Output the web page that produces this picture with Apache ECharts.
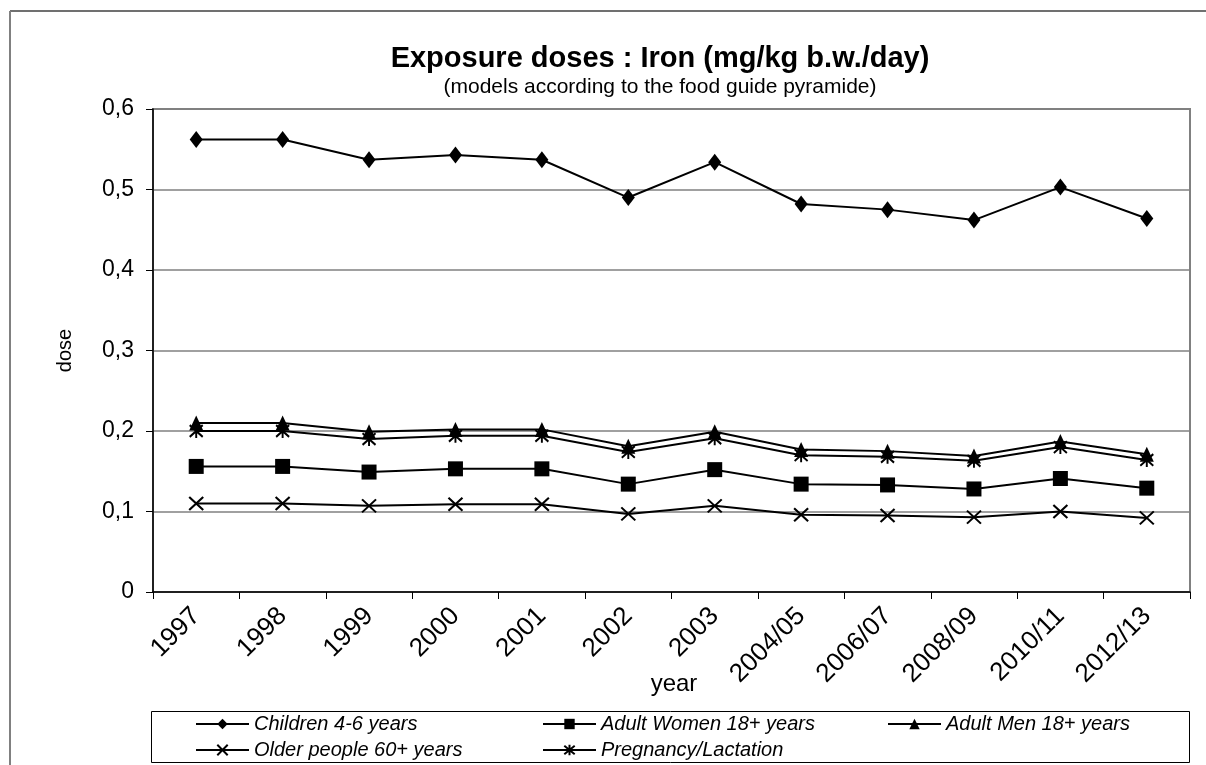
<!DOCTYPE html>
<html>
<head>
<meta charset="utf-8">
<script src="https://cdn.jsdelivr.net/npm/echarts@6/dist/echarts.min.js"></script>
<style>
html,body{margin:0;padding:0;background:#fff;}
#chart{width:1206px;height:765px;}
</style>
</head>
<body>
<div id="chart"></div>
<script>
var categories = ['1997','1998','1999','2000','2001','2002','2003','2004/05','2006/07','2008/09','2010/11','2012/13'];
var children = [0.562,0.562,0.537,0.543,0.537,0.490,0.534,0.482,0.475,0.462,0.503,0.464];
var women    = [0.156,0.156,0.149,0.153,0.153,0.134,0.152,0.134,0.133,0.128,0.141,0.129];
var men      = [0.210,0.210,0.199,0.202,0.202,0.181,0.199,0.177,0.175,0.169,0.187,0.171];
var older    = [0.110,0.110,0.107,0.109,0.109,0.097,0.107,0.096,0.095,0.093,0.100,0.092];
var pregnancy= [0.200,0.200,0.190,0.194,0.194,0.174,0.191,0.170,0.168,0.163,0.180,0.164];
var seriesNames = ['Children 4-6 years','Adult Women 18+ years','Adult Men 18+ years','Older people 60+ years','Pregnancy/Lactation'];
var titleText = 'Exposure doses : Iron (mg/kg b.w./day)';
var subtitleText = '(models according to the food guide pyramide)';

var FONT = '"Liberation Sans", Arial, Helvetica, sans-serif';
var chart = echarts.init(document.getElementById('chart'), null, {renderer:'canvas'});

var X_PATH = 'path://M0,0L10,10M0,10L10,0';
var AST_PATH = 'path://M0,1L10,11M0,11L10,1M5,0L5,12';

function mkSeries(name, data, symbol, size, stroked) {
  return {
    name: name, type: 'line', data: data,
    symbol: symbol, symbolSize: size,
    lineStyle: {color:'#000', width:2},
    itemStyle: stroked ? {color:'#000', borderColor:'#000', borderWidth:2} : {color:'#000', borderWidth:0},
    emphasis: {disabled:true},
    z: 3
  };
}

function mkLegend(name, left, top) {
  return {
    data: [name], left: left, top: top, padding: 0,
    itemWidth: 53, itemHeight: 13, itemGap: 0,
    selectedMode: false,
    textStyle: {fontFamily: FONT, fontSize: 20, fontStyle: 'italic', color: '#000'}
  };
}

var option = {
  animation: false,
  backgroundColor: '#fff',
  textStyle: {fontFamily: FONT},
  grid: {left:153, right:16, top:109, bottom:173, show:true, borderColor:'#808080', borderWidth:2, containLabel:false},
  xAxis: {
    type: 'category', data: categories, boundaryGap: true,
    name: 'year', nameLocation: 'middle', nameGap: 80, nameMoveOverlap: false,
    nameTextStyle: {fontFamily: FONT, fontSize: 24, color:'#000', padding:[0,0,0,5]},
    axisLine: {lineStyle: {color:'#000', width:1.5}},
    axisTick: {show:true, interval:0, length:7, lineStyle:{color:'#000', width:1}},
    axisLabel: {interval:0, rotate:45, fontFamily: FONT, fontSize:26, color:'#000', margin:20},
    splitLine: {show:false}
  },
  yAxis: {
    type: 'value', min: 0, max: 0.6, interval: 0.1,
    name: 'dose', nameLocation: 'middle', nameGap: 78, nameRotate: 90, nameMoveOverlap: false,
    nameTextStyle: {fontFamily: FONT, fontSize: 20, color:'#000'},
    axisLine: {show:true, lineStyle: {color:'#000', width:1.5}},
    axisTick: {show:true, length:7, lineStyle:{color:'#000', width:1}},
    axisLabel: {fontFamily: FONT, fontSize:23, color:'#000', margin:19,
      formatter: function(v){ return v === 0 ? '0' : v.toFixed(1).replace('.', ','); }},
    splitLine: {show:true, lineStyle:{color:'#808080', width:1.5}}
  },
  legend: [
    mkLegend(seriesNames[0], 195, 714),
    mkLegend(seriesNames[1], 542, 714),
    mkLegend(seriesNames[2], 887, 714),
    mkLegend(seriesNames[3], 195, 740),
    mkLegend(seriesNames[4], 542, 740)
  ],
  series: [
    mkSeries(seriesNames[0], children, 'diamond', [13,17], false),
    mkSeries(seriesNames[1], women, 'rect', 15, false),
    mkSeries(seriesNames[2], men, 'triangle', [14,15], false),
    mkSeries(seriesNames[3], older, X_PATH, [14,13], true),
    mkSeries(seriesNames[4], pregnancy, AST_PATH, [13,14], true)
  ],
  graphic: [
    {type:'line', shape:{x1:10, y1:11, x2:1206, y2:11}, style:{stroke:'#404040', lineWidth:1.5}, silent:true},
    {type:'line', shape:{x1:10, y1:11, x2:10, y2:765}, style:{stroke:'#808080', lineWidth:2}, silent:true},
    {type:'rect', shape:{x:151.5, y:711.5, width:1038, height:51}, style:{fill:'none', stroke:'#000', lineWidth:1}, silent:true},
    {type:'text', x:660, y:59, style:{text:titleText, font:'bold 29px ' + FONT, fill:'#000', align:'center', verticalAlign:'middle', textAlign:'center', textVerticalAlign:'middle'}, silent:true},
    {type:'text', x:660, y:87, style:{text:subtitleText, font:'21px ' + FONT, fill:'#000', align:'center', verticalAlign:'middle', textAlign:'center', textVerticalAlign:'middle'}, silent:true}
  ]
};
chart.setOption(option);
</script>
</body>
</html>
